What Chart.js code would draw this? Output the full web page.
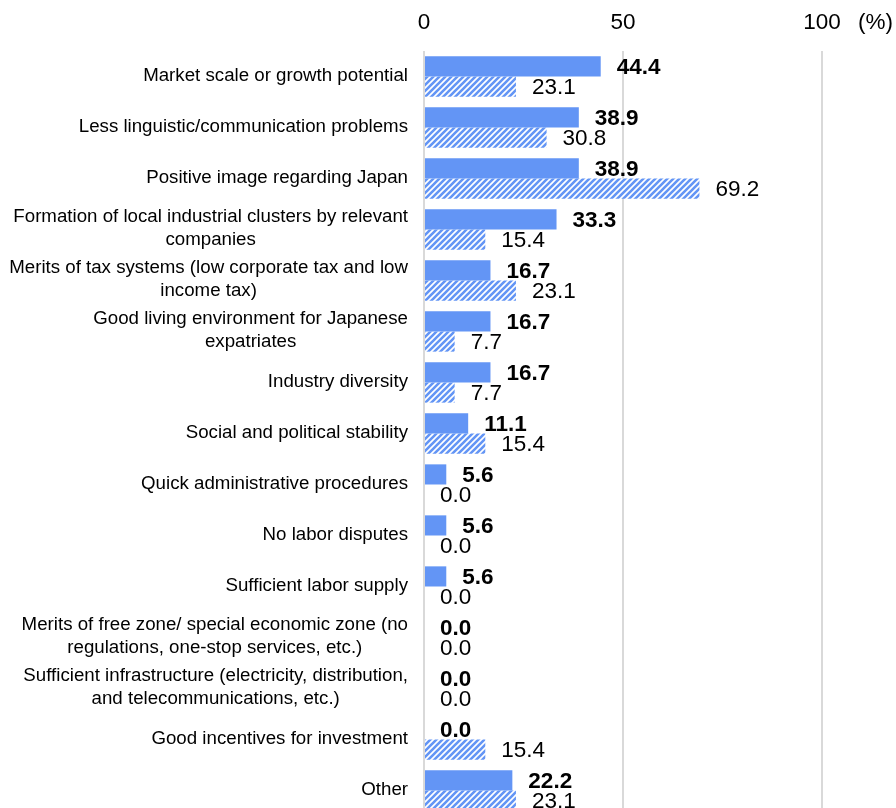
<!DOCTYPE html>
<html>
<head>
<meta charset="utf-8">
<script src="https://cdn.jsdelivr.net/npm/chart.js@4"></script>
<style>
  html, body { margin: 0; padding: 0; background: #fff; overflow: hidden; }
  #wrap { width: 896px; height: 816px; }
</style>
</head>
<body>
<div id="wrap"><canvas id="reasons"></canvas></div>
<script>
// reasons for choosing the location (%)
const reasons = [
  "Market scale or growth potential",
  "Less linguistic/communication problems",
  "Positive image regarding Japan",
  ["Formation of local industrial clusters by relevant", "companies"],
  ["Merits of tax systems (low corporate tax and low", "income tax)"],
  ["Good living environment for Japanese", "expatriates"],
  "Industry diversity",
  "Social and political stability",
  "Quick administrative procedures",
  "No labor disputes",
  "Sufficient labor supply",
  ["Merits of free zone/ special economic zone (no", "regulations, one-stop services, etc.)"],
  ["Sufficient infrastructure (electricity, distribution,", "and telecommunications, etc.)"],
  "Good incentives for investment",
  "Other"
];
const latest = [44.4, 38.9, 38.9, 33.3, 16.7, 16.7, 16.7, 11.1, 5.6, 5.6, 5.6, 0.0, 0.0, 0.0, 22.2];
const previous = [23.1, 30.8, 69.2, 15.4, 23.1, 7.7, 7.7, 15.4, 0.0, 0.0, 0.0, 0.0, 0.0, 15.4, 23.1];
const xTicks = [0, 50, 100];

const FONT = "'Liberation Sans', Arial, sans-serif";
const BLUE = "rgb(99,149,245)";

// diagonal hatch for the previous survey bars
function hatch() {
  const c = document.createElement("canvas");
  c.width = 6; c.height = 6;
  const g = c.getContext("2d");
  g.fillStyle = "#fff";
  g.fillRect(0, 0, 6, 6);
  g.strokeStyle = BLUE;
  g.lineWidth = 2.6;
  g.beginPath();
  g.moveTo(-1, 7); g.lineTo(7, -1);
  g.moveTo(-4, 4); g.lineTo(4, -4);
  g.moveTo(2, 10); g.lineTo(10, 2);
  g.stroke();
  return g.createPattern(c, "repeat");
}

// category names, each block right-aligned with its lines centred
const categoryLabels = {
  id: "categoryLabels",
  afterDraw(chart) {
    const ctx = chart.ctx, y = chart.scales.y;
    const right = chart.chartArea.left - 16;
    const lh = 23;
    ctx.save();
    ctx.font = "18.7px " + FONT;
    ctx.fillStyle = "#000";
    ctx.textAlign = "center";
    ctx.textBaseline = "middle";
    reasons.forEach((r, i) => {
      const lines = Array.isArray(r) ? r : [r];
      const w = Math.max(...lines.map(l => ctx.measureText(l).width));
      const cy = y.getPixelForTick(i) - 1;
      lines.forEach((l, k) => {
        ctx.fillText(l, right - w / 2, cy + (k - (lines.length - 1) / 2) * lh);
      });
    });
    ctx.restore();
  }
};

// value at the end of each bar, plus the unit after the axis
const barValues = {
  id: "barValues",
  afterDatasetsDraw(chart) {
    const ctx = chart.ctx;
    ctx.save();
    ctx.fillStyle = "#000";
    ctx.textAlign = "left";
    ctx.textBaseline = "middle";
    chart.data.datasets.forEach((ds, di) => {
      ctx.font = (di === 0 ? "bold " : "") + "22.5px " + FONT;
      chart.getDatasetMeta(di).data.forEach((bar, i) => {
        ctx.fillText(ds.data[i].toFixed(1), bar.x + 16, bar.y + 1);
      });
    });
    const x = chart.scales.x;
    ctx.font = "22.5px " + FONT;
    ctx.fillText("(%)", x.right + 36, 23);
    ctx.restore();
  }
};

new Chart(document.getElementById("reasons"), {
  type: "bar",
  data: {
    labels: reasons,
    datasets: [
      { label: "Latest survey", data: latest, backgroundColor: BLUE },
      { label: "Previous survey", data: previous, backgroundColor: hatch() }
    ]
  },
  options: {
    indexAxis: "y",
    responsive: true,
    maintainAspectRatio: false,
    animation: false,
    layout: { padding: { left: 0, right: 74, top: 0, bottom: 0 } },
    categoryPercentage: 0.79,
    barPercentage: 1.0,
    plugins: {
      legend: { display: false },
      tooltip: { enabled: false }
    },
    scales: {
      x: {
        position: "top",
        min: 0,
        max: 100,
        afterBuildTicks: s => { s.ticks = xTicks.map(v => ({ value: v })); },
        afterFit: s => { s.height = 51; },
        grid: { color: "#d9d9d9", lineWidth: 2, drawTicks: false },
        border: { display: false },
        ticks: { color: "#000", font: { family: FONT, size: 22.5 }, padding: 15 }
      },
      y: {
        afterFit: s => { s.width = 424; },
        grid: { display: false },
        border: { display: false },
        ticks: { display: false }
      }
    }
  },
  plugins: [categoryLabels, barValues]
});
</script>
</body>
</html>
